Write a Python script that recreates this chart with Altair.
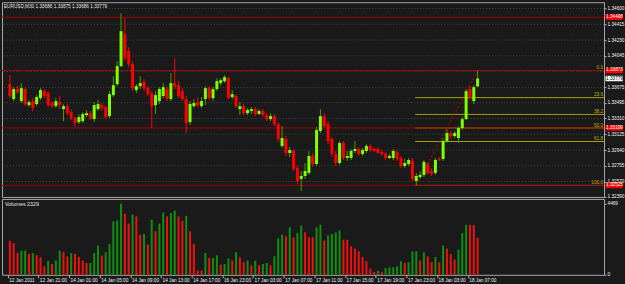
import altair as alt
import pandas as pd

FONT = "Liberation Sans"
FS = 4.7
BG = "#1a1a1a"

# ---------------- data ----------------
open_ = [1.33713, 1.33538, 1.33655, 1.33514, 1.33655, 1.33467, 1.33514, 1.33479, 1.33549, 1.33631,
         1.33608, 1.33491, 1.33455, 1.33502, 1.33420, 1.33455, 1.33385, 1.33315, 1.33268, 1.33280,
         1.33350, 1.33373, 1.33303, 1.33420, 1.33467, 1.33444, 1.33338, 1.33584, 1.33713, 1.33924,
         1.34299, 1.34100, 1.33947, 1.33643, 1.33690, 1.33737, 1.33666, 1.33608, 1.33467, 1.33514,
         1.33573, 1.33655, 1.33538, 1.33725, 1.33701, 1.33631, 1.33538, 1.33268, 1.33455, 1.33502,
         1.33455, 1.33538, 1.33666, 1.33549, 1.33655, 1.33725, 1.33748, 1.33783, 1.33561, 1.33573,
         1.33420, 1.33455, 1.33373, 1.33397, 1.33420, 1.33362, 1.33397, 1.33350, 1.33303, 1.33338,
         1.33245, 1.32987, 1.33069, 1.32905, 1.32929, 1.32730, 1.32601, 1.32636, 1.32671, 1.32870,
         1.32776, 1.33163, 1.33338, 1.33245, 1.33069, 1.32893, 1.32788, 1.33022, 1.32847, 1.32847,
         1.32929, 1.32952, 1.32893, 1.32929, 1.32987, 1.32952, 1.32952, 1.32917, 1.32893, 1.32847,
         1.32847, 1.32917, 1.32847, 1.32753, 1.32776, 1.32812, 1.32577, 1.32624, 1.32648, 1.32776,
         1.32694, 1.32671, 1.32835, 1.32835, 1.33046, 1.33139, 1.33104, 1.33081, 1.33198, 1.33303,
         1.33655, 1.33514, 1.33686]
high = [1.33819, 1.33678, 1.33690, 1.33725, 1.33678, 1.33526, 1.33549, 1.33584, 1.33666, 1.33655,
        1.33631, 1.33514, 1.33549, 1.33573, 1.33479, 1.33479, 1.33420, 1.33338, 1.33362, 1.33385,
        1.33409, 1.33397, 1.33502, 1.33526, 1.33491, 1.33467, 1.33631, 1.33807, 1.33983, 1.34545,
        1.34486, 1.34146, 1.33983, 1.33713, 1.33807, 1.33772, 1.33690, 1.33631, 1.33631, 1.33678,
        1.33725, 1.33690, 1.33842, 1.34018, 1.33748, 1.33666, 1.33573, 1.33514, 1.33538, 1.33561,
        1.33561, 1.33690, 1.33690, 1.33678, 1.33783, 1.33783, 1.33819, 1.33795, 1.33643, 1.33596,
        1.33502, 1.33479, 1.33432, 1.33444, 1.33444, 1.33420, 1.33420, 1.33373, 1.33373, 1.33362,
        1.33268, 1.33221, 1.33104, 1.32975, 1.32952, 1.32765, 1.32694, 1.32788, 1.32929, 1.32905,
        1.33210, 1.33420, 1.33373, 1.33280, 1.33092, 1.32929, 1.33046, 1.33046, 1.32929, 1.32952,
        1.33046, 1.32975, 1.32964, 1.33011, 1.33011, 1.32975, 1.32975, 1.32940, 1.32917, 1.32893,
        1.32952, 1.32940, 1.32870, 1.32835, 1.32847, 1.32847, 1.32671, 1.32694, 1.32823, 1.32800,
        1.32730, 1.32847, 1.32858, 1.33081, 1.33186, 1.33163, 1.33163, 1.33221, 1.33327, 1.33655,
        1.33690, 1.33701, 1.33875]
low = [1.33549, 1.33514, 1.33596, 1.33491, 1.33455, 1.33444, 1.33397, 1.33455, 1.33526, 1.33549,
       1.33444, 1.33432, 1.33432, 1.33420, 1.33280, 1.33350, 1.33292, 1.33210, 1.33245, 1.33256,
       1.33327, 1.33292, 1.33268, 1.33397, 1.33397, 1.33303, 1.33315, 1.33561, 1.33690, 1.33912,
       1.33983, 1.33912, 1.33631, 1.33608, 1.33655, 1.33631, 1.33573, 1.33198, 1.33362, 1.33479,
       1.33549, 1.33514, 1.33514, 1.33655, 1.33549, 1.33514, 1.33139, 1.33233, 1.33432, 1.33444,
       1.33432, 1.33467, 1.33526, 1.33514, 1.33631, 1.33701, 1.33725, 1.33538, 1.33538, 1.33432,
       1.33350, 1.33350, 1.33350, 1.33362, 1.33338, 1.33350, 1.33327, 1.33280, 1.33280, 1.33221,
       1.33034, 1.32964, 1.32870, 1.32858, 1.32694, 1.32542, 1.32460, 1.32601, 1.32648, 1.32741,
       1.32753, 1.33139, 1.33198, 1.33011, 1.32858, 1.32753, 1.32765, 1.32823, 1.32812, 1.32823,
       1.32905, 1.32870, 1.32870, 1.32905, 1.32917, 1.32917, 1.32893, 1.32870, 1.32823, 1.32835,
       1.32823, 1.32812, 1.32730, 1.32730, 1.32753, 1.32577, 1.32525, 1.32601, 1.32624, 1.32648,
       1.32636, 1.32648, 1.32812, 1.32812, 1.33022, 1.33069, 1.33081, 1.33022, 1.33174, 1.33292,
       1.33526, 1.33479, 1.33686]
close = [1.33573, 1.33655, 1.33620, 1.33666, 1.33479, 1.33502, 1.33432, 1.33561, 1.33643, 1.33573,
         1.33467, 1.33455, 1.33514, 1.33467, 1.33455, 1.33373, 1.33315, 1.33256, 1.33327, 1.33362,
         1.33373, 1.33315, 1.33467, 1.33479, 1.33432, 1.33327, 1.33596, 1.33701, 1.33924, 1.34334,
         1.34018, 1.33947, 1.33666, 1.33690, 1.33725, 1.33666, 1.33596, 1.33455, 1.33584, 1.33655,
         1.33678, 1.33538, 1.33725, 1.33690, 1.33573, 1.33538, 1.33256, 1.33479, 1.33491, 1.33467,
         1.33514, 1.33666, 1.33549, 1.33655, 1.33748, 1.33760, 1.33795, 1.33549, 1.33596, 1.33455,
         1.33455, 1.33373, 1.33409, 1.33420, 1.33362, 1.33397, 1.33350, 1.33303, 1.33338, 1.33245,
         1.33069, 1.33081, 1.32905, 1.32940, 1.32718, 1.32577, 1.32636, 1.32694, 1.32870, 1.32776,
         1.33174, 1.33338, 1.33221, 1.33046, 1.32893, 1.32788, 1.33022, 1.32847, 1.32870, 1.32929,
         1.32952, 1.32893, 1.32940, 1.32987, 1.32940, 1.32929, 1.32905, 1.32893, 1.32847, 1.32870,
         1.32929, 1.32835, 1.32753, 1.32788, 1.32823, 1.32601, 1.32636, 1.32648, 1.32800, 1.32671,
         1.32659, 1.32823, 1.32823, 1.33046, 1.33139, 1.33104, 1.33139, 1.33198, 1.33303, 1.33631,
         1.33549, 1.33678, 1.33779]
volume = [2150, 2000, 1370, 1520, 1520, 1310, 1370, 1230, 1100, 535,
          890, 680, 910, 1520, 1430, 1160, 1370, 1330, 1120, 890,
          740, 740, 1370, 1840, 1210, 1420, 1940, 3370, 3430, 4469,
          3850, 3220, 3800, 3680, 2530, 2570, 1900, 3470, 2740, 3220,
          3930, 3680, 3890, 4040, 3680, 3410, 3720, 2740, 1940, 280,
          280, 1370, 1060, 1060, 1230, 640, 680, 1020, 890, 1420,
          1100, 800, 890, 600, 890, 600, 680, 740, 600, 1160,
          2280, 2530, 2420, 2990, 2360, 2630, 3100, 2670, 2360, 2360,
          2990, 3160, 2150, 2470, 2570, 2670, 2800, 2210, 2210, 1790,
          1650, 1480, 1120, 850, 390, 180, 260, 180, 430, 470,
          470, 535, 850, 740, 790, 1480, 1480, 890, 1420, 1160,
          800, 1120, 790, 1840, 1650, 1310, 960, 1590, 2630, 3160,
          3150, 3140, 2329]
volume_dir = ("d d d u u d u d d d "
              "u d u u d d u d d d "
              "d u u u d u u u u u "
              "d d u d d u d u d u "
              "u d u u d d u d d d "
              "d u d u u d u u d u "
              "d d u d u d u u d u "
              "u u d u d u u d d d "
              "u u d u u u u d d d "
              "d d d d d d u d u u "
              "u u u d u u u d u d "
              "d u d u d d d u u u "
              "d d d").split()

tick_bars = [0, 8, 16, 24, 32, 40, 48, 56, 64, 72, 80, 88, 96, 104, 112, 120]
tick_labels = ["12 Jan 2011", "12 Jan 21:00", "14 Jan 01:00", "14 Jan 05:00", "14 Jan 09:00",
               "14 Jan 13:00", "14 Jan 17:00", "16 Jan 23:00", "17 Jan 03:00", "17 Jan 07:00",
               "17 Jan 11:00", "17 Jan 15:00", "17 Jan 19:00", "17 Jan 23:00", "18 Jan 03:00",
               "18 Jan 07:00"]
price_ticks = [1.34600, 1.34415, 1.34230, 1.34045, 1.33675, 1.33495, 1.33310, 1.33125,
               1.32940, 1.32755, 1.32570, 1.32390]
grid_prices = [1.34600, 1.34415, 1.34230, 1.34045, 1.33860, 1.33675, 1.33495, 1.33310,
               1.33125, 1.32940, 1.32755, 1.32570]
level_lines = [1.34498, 1.33873, 1.33199, 1.32525]
fib_levels = [0.0, 23.6, 38.2, 50.0, 61.8, 100.0]
fib_high, fib_low = 1.33873, 1.32525
fib_bars = [106, 122]
vol_top_label = 4469

# ---------------- layout constants ----------------
W, H1, H2 = 603, 195, 76
X0, X1 = -0.743, 153.67
P0, P1 = 1.32390, 1.34674
xs = alt.Scale(domain=[X0, X1], nice=False, zero=False)
ys = alt.Scale(domain=[P0, P1], nice=False, zero=False)
GREEN_BODY, GREEN_WICK, RED = "#7fff00", "#4f9a00", "#ff0000"
LBL = "#f0f0f0"

YAX = alt.Axis(orient="right", values=price_ticks, format=".5f", grid=False, domain=False,
               tickSize=2, tickColor="#b0b0b0", labelColor=LBL, labelFont=FONT,
               labelFontSize=FS, labelPadding=1, labelFlush=False, labelOverlap=False,
               labelBound=False)


def py(field):
    return alt.Y(field, scale=ys, title=None, axis=YAX)


def px(field):
    return alt.X(field, scale=xs, title=None, axis=None)


n = len(close)
bars = pd.DataFrame({"i": list(range(n)), "o": open_, "h": high, "l": low, "c": close})
up = [c >= o for o, c in zip(open_, close)]
bars["wick_col"] = [GREEN_WICK if u else RED for u in up]
bars["body_col"] = [GREEN_BODY if u else RED for u in up]

grid = alt.Chart(pd.DataFrame({"p": grid_prices})).mark_rule(
    color="#474747", strokeDash=[1, 2], strokeWidth=1
).encode(y=py("p:Q"))

fib_df = pd.DataFrame({
    "p": [fib_high - (fib_high - fib_low) * v / 100 for v in fib_levels],
    "x": [fib_bars[0] - 0.3] * len(fib_levels),
    "txt": [f"{v:.1f}" for v in fib_levels],
})
fib_rules = alt.Chart(fib_df).mark_rule(color="#a3a300", strokeWidth=1).encode(
    x=px("x:Q"), x2=alt.value(W), y=py("p:Q")
)
fib_text = alt.Chart(fib_df).mark_text(
    align="right", baseline="bottom", dy=-0.3, color="#b4b400", font=FONT, fontSize=FS
).encode(x=alt.value(W - 1), y=py("p:Q"), text="txt:N")

levels = alt.Chart(pd.DataFrame({"p": level_lines})).mark_rule(color="#a00000", strokeWidth=1).encode(
    y=py("p:Q")
)

trend = alt.Chart(pd.DataFrame({"i": fib_bars, "p": [fib_low, fib_high]})).mark_line(
    color="#d00000", strokeDash=[2, 2], strokeWidth=1
).encode(x=px("i:Q"), y=py("p:Q"))

wicks = alt.Chart(bars).mark_rule(strokeWidth=1).encode(
    x=px("i:Q"), y=py("l:Q"), y2="h:Q", color=alt.Color("wick_col:N", scale=None),
)
bodies = alt.Chart(bars).mark_bar(size=3).encode(
    x=px("i:Q"), y=py("o:Q"), y2="c:Q", color=alt.Color("body_col:N", scale=None),
)

tags = pd.DataFrame({
    "p": level_lines + [close[-1]],
    "fill": ["#ff0000"] * len(level_lines) + ["#ffffff"],
    "ink": ["#ffffff"] * len(level_lines) + ["#000000"],
})
tags["txt"] = [f"{v:.5f}" for v in tags["p"]]
tags["p_hi"] = tags["p"] + 0.00032
tags["p_lo"] = tags["p"] - 0.00032
tag_boxes = alt.Chart(tags).mark_rect().encode(
    x=alt.value(W + 1.5), x2=alt.value(W + 18.7), y=py("p_hi:Q"), y2="p_lo:Q",
    fill=alt.Fill("fill:N", scale=None),
)
tag_text = alt.Chart(tags).mark_text(align="left", baseline="middle", font=FONT, fontSize=FS).encode(
    x=alt.value(W + 2), y=py("p:Q"), text="txt:N", color=alt.Color("ink:N", scale=None),
)

title_txt = f"EURUSD,M30 {open_[-1]:.5f} {high[-1]:.5f} {low[-1]:.5f} {close[-1]:.5f}"
title = alt.Chart(pd.DataFrame({"t": [title_txt]})).mark_text(
    align="left", baseline="middle", color="#e8e8e8", font=FONT, fontSize=FS
).encode(x=alt.value(2), y=alt.value(4.5), text="t:N")

price = alt.layer(grid, fib_rules, levels, trend, wicks, bodies, fib_text, tag_boxes, tag_text, title).properties(
    width=W, height=H1
)

# ---------------- volume panel ----------------
vdf = pd.DataFrame({"i": list(range(n)), "v": volume,
                    "vc": ["#0f8f0f" if d == "u" else "#f01010" for d in volume_dir]})
expr = "''"
for b, lab in zip(tick_bars, tick_labels):
    expr = f"(datum.value > {b - 4}) ? '{lab}' : ({expr})"

vbars = alt.Chart(vdf).mark_bar(size=2).encode(
    x=alt.X("i:Q", scale=xs, title=None, axis=alt.Axis(
        orient="bottom", values=[b - 0.56 for b in tick_bars], labelExpr=expr, grid=False,
        domain=False, tickSize=3, tickColor="#b0b0b0", labelColor=LBL, labelFont=FONT,
        labelFontSize=FS, labelAlign="left", labelBaseline="top", labelPadding=0, labelOffset=1,
        labelFlush=False, labelOverlap=False, labelBound=False)),
    y=alt.Y("v:Q", scale=alt.Scale(domain=[0, 4780], nice=False), title=None, axis=alt.Axis(
        orient="right", values=[0, vol_top_label], format="d", grid=False, domain=False,
        tickSize=2, tickColor="#b0b0b0", labelColor=LBL, labelFont=FONT,
        labelFontSize=FS, labelPadding=1, labelFlush=False, labelOverlap=False)),
    color=alt.Color("vc:N", scale=None),
)
vtitle = alt.Chart(pd.DataFrame({"t": [f"Volumes {volume[-1]}"]})).mark_text(
    align="left", baseline="middle", color="#e8e8e8", font=FONT, fontSize=5.4
).encode(x=alt.value(3), y=alt.value(5.5), text="t:N")

vol = alt.layer(vbars, vtitle).properties(width=W, height=H2)

chart = alt.vconcat(price, vol, spacing=2, bounds="flush").properties(
    padding={"left": 1, "top": 1, "right": 0, "bottom": 0}, background=BG
).configure_view(stroke="#a8a8a8", strokeWidth=1, fill=BG)

chart.save("out.html", embed_options={"renderer": "svg", "actions": False})
